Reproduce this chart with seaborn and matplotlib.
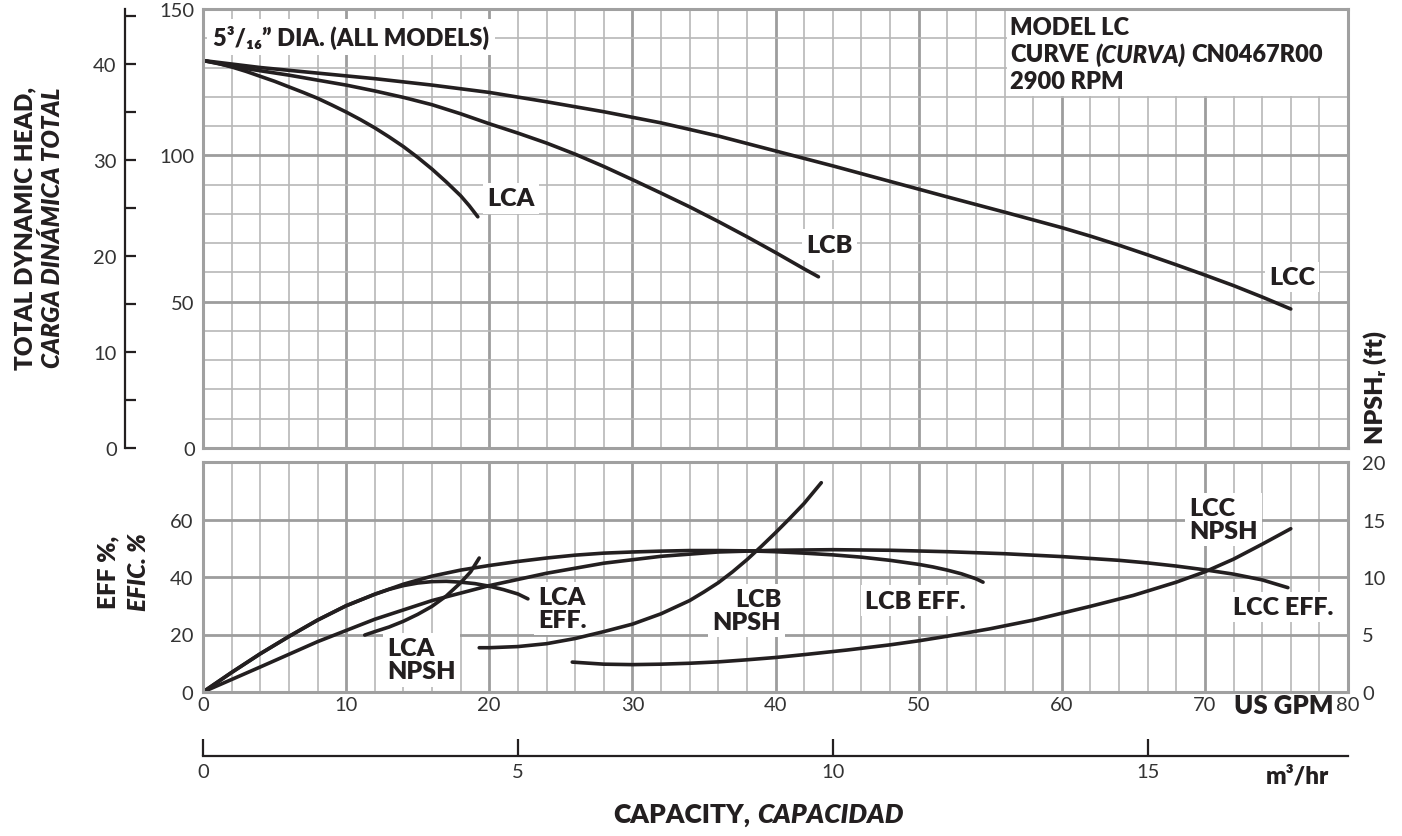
import matplotlib
matplotlib.use('Agg')
import matplotlib.pyplot as plt
import seaborn as sns
from matplotlib.ticker import MultipleLocator, NullLocator
from matplotlib.patches import Rectangle
from matplotlib.transforms import IdentityTransform

# head curves (US GPM -> ft)
gpm_lca = [0, 1, 2, 3, 4, 5, 6, 7, 8, 9, 10, 11, 12, 13, 14, 15, 16, 17, 18, 18.6, 19.2]
head_lca = [132.4, 131.5, 130.2, 128.7, 127.0, 125.3, 123.4, 121.5, 119.5, 117.2, 114.8,
            112.2, 109.4, 106.3, 103.0, 99.3, 95.3, 90.9, 86.2, 82.8, 79.0]
gpm_lcb = [0, 2, 4, 6, 8, 10, 12, 14, 16, 18, 20, 22, 24, 26, 28, 30, 32, 34, 36, 38, 40, 42, 43]
head_lcb = [132.4, 130.4, 128.9, 127.4, 125.7, 124.0, 122.0, 119.8, 117.3, 114.2, 110.8, 107.6,
            104.2, 100.4, 96.2, 91.7, 87.1, 82.4, 77.4, 72.2, 66.8, 61.2, 58.5]
gpm_lcc = [0, 4, 8, 12, 16, 20, 24, 28, 32, 36, 40, 44, 48, 52, 56, 60, 62, 64, 66, 68, 70,
           72, 74, 76]
head_lcc = [132.4, 130.0, 128.1, 126.2, 124.0, 121.5, 118.3, 114.9, 111.1, 106.6, 101.5, 96.4,
            91.1, 85.8, 80.6, 75.3, 72.4, 69.3, 66.0, 62.6, 59.1, 55.5, 51.6, 47.5]

# efficiency curves (%)
gpm_lca_eff = [0, 2, 4, 6, 8, 10, 12, 13, 14, 15, 16, 17, 18, 19, 20, 21, 22, 22.7]
eff_lca = [0, 6.8, 13.3, 19.3, 25, 30, 34, 35.7, 37, 37.9, 38.4, 38.5, 38.2, 37.7, 36.8, 35.6,
           34.1, 32.4]
gpm_lcb_eff = [0, 2, 4, 6, 8, 10, 12, 14, 16, 18, 20, 22, 24, 26, 28, 30, 32, 34, 36, 38, 40,
               42, 44, 46, 48, 50, 51, 52, 53, 54, 54.5]
eff_lcb = [0, 6.8, 13.3, 19.3, 25, 30, 34, 37.5, 40.3, 42.4, 44, 45.4, 46.6, 47.6, 48.3, 48.7,
           49, 49.2, 49.2, 49.1, 48.8, 48.3, 47.7, 46.9, 45.8, 44.4, 43.5, 42.4, 41.1, 39.4, 38.2]
gpm_lcc_eff = [0, 4, 8, 12, 16, 20, 24, 28, 32, 36, 40, 44, 48, 52, 56, 60, 64, 66, 68, 70, 72,
               74, 75.8]
eff_lcc = [0, 8.7, 17.5, 25.3, 31.8, 37, 41.3, 44.8, 47.2, 48.7, 49.3, 49.5, 49.3, 48.8, 48.1,
           47.1, 45.8, 44.9, 43.8, 42.5, 41, 39, 36.3]

# NPSHr curves (ft)
gpm_lca_npsh = [11.3, 12, 13, 14, 15, 16, 17, 18, 18.7, 19.3]
npsh_lca = [4.95, 5.25, 5.65, 6.15, 6.75, 7.45, 8.35, 9.5, 10.45, 11.65]
gpm_lcb_npsh = [19.3, 20, 22, 24, 26, 28, 30, 32, 34, 35, 36, 37, 38, 39, 40, 41, 42, 43.2]
npsh_lcb = [3.85, 3.85, 3.95, 4.2, 4.65, 5.25, 5.9, 6.8, 7.95, 8.7, 9.5, 10.45, 11.5, 12.65,
            13.85, 15.1, 16.4, 18.2]
gpm_lcc_npsh = [25.8, 28, 30, 32, 34, 36, 38, 40, 42, 45, 48, 50, 52, 55, 58, 60, 62, 65, 68,
                70, 72, 74, 76]
npsh_lcc = [2.6, 2.42, 2.38, 2.42, 2.5, 2.62, 2.8, 3.0, 3.25, 3.65, 4.1, 4.45, 4.85, 5.5, 6.25,
            6.85, 7.45, 8.4, 9.55, 10.45, 11.55, 12.85, 14.2]

gpm_ticks = [0, 10, 20, 30, 40, 50, 60, 70, 80]
m3_ticks = [0, 5, 10, 15]
GPM_PER_M3H = 4.40287
FT_PER_M = 3.28084

INK = '#231f20'
TICK_INK = '#333333'
GRID_MAJ = '#9d9d9d'
GRID_MIN = '#b8b8b8'
HEAVY = 'heavy'
TICK_SIZE = 14.5

sns.set_style('white')
plt.rcParams['font.family'] = ['Lato', 'DejaVu Sans']
plt.rcParams['text.color'] = INK

W, H = 1402, 837
fig = plt.figure(figsize=(W / 100, H / 100), dpi=100)


def box(l, t, r, b):
    return [l / W, 1 - b / H, (r - l) / W, (b - t) / H]


ax_h = fig.add_axes(box(203, 10, 1348, 449))
ax_e = fig.add_axes(box(203, 463, 1348, 693))
ax_n = ax_e.twinx()
ax_m = fig.add_axes(box(125, 10, 135, 449))
ax_q = fig.add_axes(box(203, 740, 1348, 757))

for ax in (ax_h, ax_e):
    ax.set_xlim(0, 80)
    ax.xaxis.set_major_locator(MultipleLocator(10))
    ax.xaxis.set_minor_locator(MultipleLocator(2))
    ax.set_axisbelow(True)
    ax.grid(which='major', color=GRID_MAJ, lw=2.0)
    ax.grid(which='minor', color=GRID_MIN, lw=1.2)
    ax.tick_params(which='both', length=0, labelsize=TICK_SIZE, labelcolor=TICK_INK)
    for s in ax.spines.values():
        s.set_color('#a0a0a0')
        s.set_linewidth(2.2)

# head panel
ax_h.set_ylim(0, 150)
ax_h.yaxis.set_major_locator(MultipleLocator(50))
ax_h.yaxis.set_minor_locator(MultipleLocator(10))
ax_h.set_yticks([0, 50, 100, 150], ['0', '50', '100', '150'])
ax_h.tick_params(axis='y', pad=6)
ax_h.set_xticklabels([])

lw = 2.6
for x, y in [(gpm_lca, head_lca), (gpm_lcb, head_lcb), (gpm_lcc, head_lcc)]:
    sns.lineplot(x=x, y=y, ax=ax_h, color=INK, lw=lw, estimator=None)

ax_h.add_patch(Rectangle((56.15, 120.3), 23.85, 29.7, facecolor='white',
                         edgecolor='none', zorder=1))
lbl = dict(fontsize=18, fontweight=HEAVY, ha='center', va='center', zorder=5,
           bbox=dict(facecolor='white', edgecolor='none', pad=3))
ax_h.text(21.5, 85.3, 'LCA', **lbl)
ax_h.text(43.8, 69.5, 'LCB', **lbl)
ax_h.text(76.1, 58.5, 'LCC', **lbl)
ax_h.text(0.7, 140.4, '5³/₁₆” DIA. (ALL MODELS)', fontsize=17, fontweight=HEAVY,
          ha='left', va='center', zorder=5,
          bbox=dict(facecolor='white', edgecolor='none', pad=4))

# efficiency / NPSH panel
ax_e.set_ylim(0, 80)
ax_e.yaxis.set_major_locator(MultipleLocator(20))
ax_e.yaxis.set_minor_locator(NullLocator())
ax_e.set_yticks([0, 20, 40, 60, 80], ['0', '20', '40', '60', ''])
ax_e.set_xticks(gpm_ticks, [str(v) for v in gpm_ticks])
ax_e.tick_params(axis='y', pad=7)
ax_e.tick_params(axis='x', pad=3)

ax_n.set_ylim(0, 20)
ax_n.set_yticks([0, 5, 10, 15, 20], ['0', '5', '10', '15', '20'])
ax_n.tick_params(length=0, labelsize=TICK_SIZE, labelcolor=TICK_INK, pad=10)
for s in ax_n.spines.values():
    s.set_visible(False)
ax_n.grid(False)

for x, y in [(gpm_lca_eff, eff_lca), (gpm_lcb_eff, eff_lcb), (gpm_lcc_eff, eff_lcc)]:
    sns.lineplot(x=x, y=y, ax=ax_e, color=INK, lw=lw, estimator=None)
for x, y in [(gpm_lca_npsh, npsh_lca), (gpm_lcb_npsh, npsh_lcb), (gpm_lcc_npsh, npsh_lcc)]:
    sns.lineplot(x=x, y=y, ax=ax_n, color=INK, lw=lw, estimator=None)
ax_n.set_ylabel('')
ax_e.set_xlabel('')

lbl2 = dict(fontsize=18, fontweight=HEAVY, va='center', zorder=5, linespacing=1.05,
            bbox=dict(facecolor='white', edgecolor='none', pad=3))
ax_e.text(23.4, 29, 'LCA\nEFF.', ha='left', **lbl2)
ax_e.text(12.9, 11.2, 'LCA\nNPSH', ha='left', **lbl2)
ax_e.text(40.4, 28.3, 'LCB\nNPSH', ha='right', multialignment='right', **lbl2)
ax_e.text(49.8, 31.8, 'LCB EFF.', ha='center', **lbl2)
ax_e.text(68.9, 59.9, 'LCC\nNPSH', ha='left', **lbl2)
ax_e.text(75.5, 29.6, 'LCC EFF.', ha='center', **lbl2)
ax_e.text(75.5, -4.6, 'US GPM', ha='center', va='center', fontsize=18.5, fontweight=HEAVY,
          clip_on=False)

# metres scale on the left
ax_m.set_ylim(0, 150 / FT_PER_M)
ax_m.set_xticks([])
ax_m.patch.set_visible(False)
for k in ('top', 'right', 'bottom'):
    ax_m.spines[k].set_visible(False)
ax_m.spines['left'].set_color(INK)
ax_m.spines['left'].set_linewidth(1.6)
ax_m.set_yticks([0, 10, 20, 30, 40], ['0', '10', '20', '30', '40'])
ax_m.yaxis.set_minor_locator(MultipleLocator(5))
ax_m.tick_params(which='both', left=True, direction='in', length=8, width=1.6, color=INK,
                 labelsize=TICK_SIZE, labelcolor=TICK_INK, pad=6)

# m3/hr scale at the bottom
ax_q.set_xlim(0, 80 / GPM_PER_M3H)
ax_q.set_yticks([])
ax_q.patch.set_visible(False)
for k in ('top', 'right', 'left'):
    ax_q.spines[k].set_visible(False)
ax_q.spines['bottom'].set_color(INK)
ax_q.spines['bottom'].set_linewidth(1.6)
ax_q.set_xticks(m3_ticks, [str(v) for v in m3_ticks])
ax_q.tick_params(bottom=True, direction='in', length=12, width=1.6, color=INK,
                 labelsize=TICK_SIZE, labelcolor=TICK_INK, pad=5)

# axis titles
fig.text(25 / W, 1 - 228 / H, 'TOTAL DYNAMIC HEAD,', rotation=90, ha='center', va='center',
         fontsize=17.5, fontweight=HEAVY)
fig.text(53 / W, 1 - 228 / H, 'CARGA DINÁMICA TOTAL', rotation=90, ha='center', va='center',
         fontsize=17.5, fontweight=HEAVY, style='italic')
fig.text(108 / W, 1 - 572 / H, 'EFF %,', rotation=90, ha='center', va='center',
         fontsize=17.5, fontweight=HEAVY)
fig.text(138 / W, 1 - 572 / H, 'EFIC. %', rotation=90, ha='center', va='center',
         fontsize=17.5, fontweight=HEAVY, style='italic')
fig.text(1375 / W, 1 - 388 / H, 'NPSHᵣ (ft)', rotation=90, ha='center', va='center',
         fontsize=18, fontweight=HEAVY)
fig.text(1297 / W, 1 - 777 / H, 'm³/hr', ha='center', va='center', fontsize=17.5,
         fontweight=HEAVY)


def text_runs(x_px, y_top, parts, size, ha='left'):
    r = fig.canvas.get_renderer()
    objs = []
    for s, style in parts:
        objs.append(fig.text(0, 0, s, transform=IdentityTransform(), fontsize=size,
                             fontweight=HEAVY, style=style, va='center', zorder=6))
    gap = 0.26 * size * 100 / 72
    widths = [t.get_window_extent(r).width for t in objs]
    total = sum(widths) + gap * (len(objs) - 1)
    x = x_px - total / 2 if ha == 'center' else x_px
    for t, w in zip(objs, widths):
        t.set_position((x, H - y_top))
        x += w + gap


text_runs(1010, 28, [('MODEL LC', 'normal')], 17)
text_runs(1010, 55, [('CURVE', 'normal'), ('(CURVA)', 'italic'), ('CN0467R00', 'normal')], 17)
text_runs(1010, 82, [('2900 RPM', 'normal')], 17)
text_runs(758, 815, [('CAPACITY,', 'normal'), ('CAPACIDAD', 'italic')], 19, ha='center')

fig.savefig('out.png', dpi=100)
